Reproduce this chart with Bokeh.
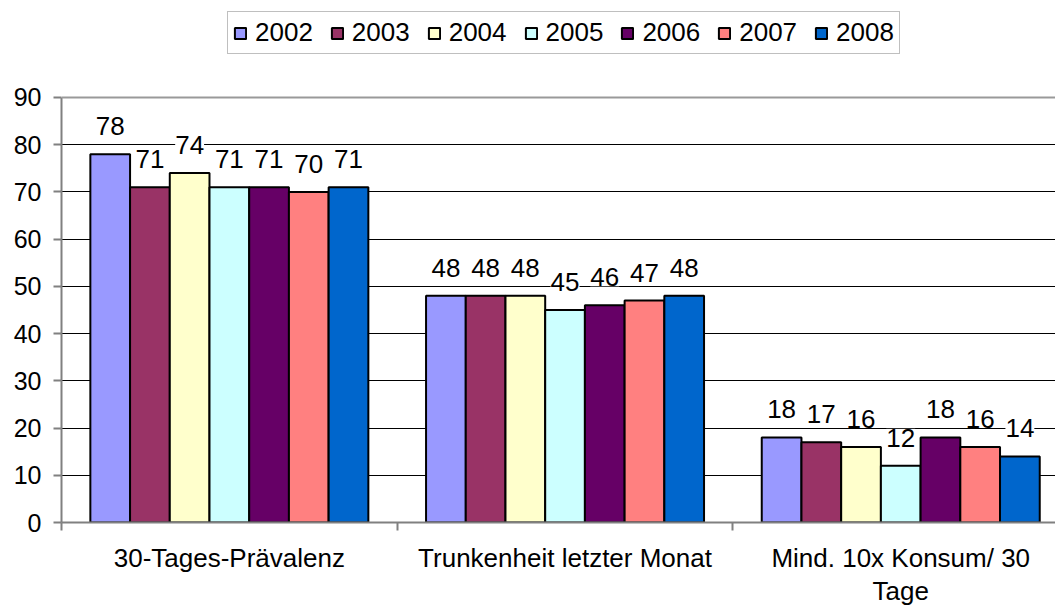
from bokeh.plotting import figure
from bokeh.models import (ColumnDataSource, LabelSet, Legend, LegendItem,
                          FixedTicker, Range1d, Span)
from bokeh.core.properties import value
from bokeh.transform import dodge
from bokeh.embed import file_html
from bokeh.resources import INLINE

# ---- data ----
categories = ["30-Tages-Prävalenz", "Trunkenheit letzter Monat", "Mind. 10x Konsum/ 30\nTage"]
years = ["2002", "2003", "2004", "2005", "2006", "2007", "2008"]
v2002 = [78, 48, 18]
v2003 = [71, 48, 17]
v2004 = [74, 48, 16]
v2005 = [71, 45, 12]
v2006 = [71, 46, 18]
v2007 = [70, 47, 16]
v2008 = [71, 48, 14]
series = [v2002, v2003, v2004, v2005, v2006, v2007, v2008]
colors = ["#9999FF", "#993366", "#FFFFCC", "#CCFFFF", "#660066", "#FF8080", "#0066CC"]
y_ticks = [0, 10, 20, 30, 40, 50, 60, 70, 80, 90]

FONT = "Liberation Sans"
centers = [i + 0.5 for i in range(len(categories))]
data = {"x": centers}
for y, vals in zip(years, series):
    data["v" + y] = vals
    data["t" + y] = [str(v) for v in vals]
src = ColumnDataSource(data)

# frame covers the legend area too; the axis is bounded to 0..90
p = figure(width=1055, height=608, output_backend="svg", toolbar_location=None,
           x_range=Range1d(0, 2.961), y_range=Range1d(0, 110.54),
           min_border_left=61, min_border_top=0, min_border_bottom=83,
           min_border_right=0)
p.outline_line_color = None
p.background_fill_color = "white"

bw = 0.1183
renderers = []
for i, (y, c) in enumerate(zip(years, colors)):
    off = (i - 3) * bw
    r = p.vbar(x=dodge("x", off), top="v" + y, width=bw, bottom=0, source=src,
               fill_color=c, line_color="black", line_width=2)
    renderers.append(r)
    lab = LabelSet(x=dodge("x", off), y="v" + y, text="t" + y, source=src,
                   text_align="center", text_baseline="bottom", y_offset=19,
                   text_font=value(FONT), text_font_size=value("26px"),
                   text_color="black", background_fill_color="white")
    p.add_layout(lab)

# grid
p.xgrid.visible = False
p.ygrid.ticker = FixedTicker(ticks=y_ticks[1:-1])
p.ygrid.grid_line_color = "black"
p.ygrid.grid_line_width = 1
p.add_layout(Span(location=y_ticks[-1], dimension="width", line_color="#999999", line_width=2))

# y axis
p.yaxis.ticker = FixedTicker(ticks=y_ticks)
p.yaxis.bounds = (y_ticks[0], y_ticks[-1])
p.yaxis.axis_line_color = "#808080"
p.yaxis.axis_line_width = 2
p.yaxis.major_tick_line_color = "#808080"
p.yaxis.major_tick_line_width = 2
p.yaxis.major_tick_out = 8
p.yaxis.major_tick_in = 0
p.yaxis.minor_tick_line_color = None
p.yaxis.major_label_text_font = FONT
p.yaxis.major_label_text_font_size = "25px"
p.yaxis.major_label_text_color = "black"
p.yaxis.major_label_standoff = 12

# x axis
p.xaxis.ticker = FixedTicker(ticks=centers, minor_ticks=[0, 1, 2, 3])
p.xaxis.major_label_overrides = {c: lbl for c, lbl in zip(centers, categories)}
p.xaxis.axis_line_color = "#808080"
p.xaxis.axis_line_width = 2
p.xaxis.major_tick_out = 0
p.xaxis.major_tick_in = 0
p.xaxis.major_tick_line_color = None
p.xaxis.minor_tick_out = 8
p.xaxis.minor_tick_in = 0
p.xaxis.minor_tick_line_color = "#808080"
p.xaxis.minor_tick_line_width = 2
p.xaxis.major_label_text_font = FONT
p.xaxis.major_label_text_font_size = "26px"
p.xaxis.major_label_text_color = "black"
p.xaxis.major_label_text_line_height = 1.1
p.xaxis.major_label_standoff = 12

legend = Legend(items=[LegendItem(label=y, renderers=[r]) for y, r in zip(years, renderers)],
                orientation="horizontal", location=(166, 468),
                label_text_font=FONT, label_text_font_size="26px", label_text_color="black",
                glyph_width=14, glyph_height=14, label_standoff=8, spacing=17,
                padding=5, margin=0, border_line_color="#808080", border_line_width=1.5,
                background_fill_color="white", background_fill_alpha=1.0)
p.add_layout(legend)

open("out.html", "w").write(file_html(p, INLINE))
